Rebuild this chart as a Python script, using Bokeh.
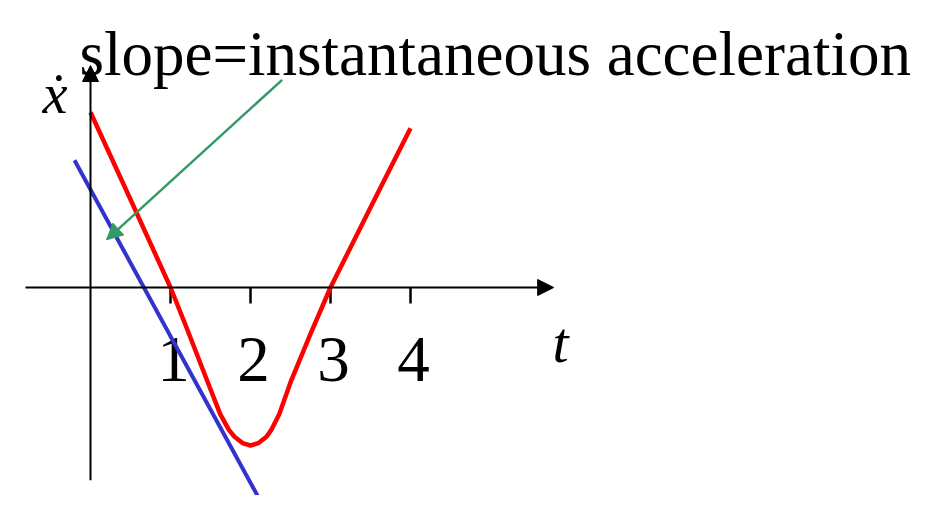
from bokeh.plotting import figure
from bokeh.models import ColumnDataSource, Arrow, NormalHead, Label, Range1d
from bokeh.core.properties import value
from bokeh.embed import file_html
from bokeh.resources import INLINE

# ---- data ----
curve_t = [0.0, 0.5, 1.0, 1.2, 1.456, 1.62, 1.73, 1.8, 1.9, 2.0, 2.1, 2.2, 2.26, 2.36, 2.51, 2.75, 3.0, 3.5, 4.0]
curve_v = [2.19, 1.1, 0.0, -0.5, -1.16, -1.58, -1.78, -1.865, -1.945, -1.975, -1.945, -1.865, -1.78, -1.58, -1.16, -0.58, 0.0, 1.0, 1.99]

tangent_t = [-0.2, 2.19]
tangent_v = [1.59, -2.79]

pointer_t = [2.396, 0.2]
pointer_v = [2.596, 0.596]

tick_t = [1, 2, 3, 4]
tick_labels = ["1", "2", "3", "4"]

title_text = "slope=instantaneous acceleration"
y_label = "\u1e8b"
x_label = "t"

W, H = 911, 495
SC = 80.0
x0_px, y0_px = 90.0, 287.0

p = figure(width=W, height=H, output_backend="svg", toolbar_location=None,
           x_range=Range1d(-x0_px / SC, (W - x0_px) / SC),
           y_range=Range1d(-(H - y0_px) / SC, y0_px / SC),
           min_border=0)
p.axis.visible = False
p.grid.visible = False
p.outline_line_color = None
p.background_fill_color = "white"
p.border_fill_color = "white"

# axes with arrowheads
p.add_layout(Arrow(x_start=-0.8125, y_start=0, x_end=5.79, y_end=0,
                   line_color="black", line_width=2,
                   end=NormalHead(size=16, fill_color="black", line_color="black", line_width=1)))
p.add_layout(Arrow(x_start=0, y_start=-2.41, x_end=0, y_end=2.775,
                   line_color="black", line_width=2,
                   end=NormalHead(size=16, fill_color="black", line_color="black", line_width=1)))

# ticks
tsrc = ColumnDataSource(dict(x=tick_t, y0=[0] * len(tick_t), y1=[-0.2] * len(tick_t), lab=tick_labels))
p.segment(x0="x", y0="y0", x1="x", y1="y1", source=tsrc, line_color="black", line_width=2.5)
p.text(x="x", y=-0.9, text="lab", source=tsrc, text_font=value("Liberation Serif"),
       text_font_size="65px", text_align="center", text_baseline="alphabetic", x_offset=3,
       text_color="black")

# tangent line
p.line(tangent_t, tangent_v, line_color="#3333cc", line_width=4)

# velocity curve
p.line(curve_t, curve_v, line_color="#ff0000", line_width=4.5, line_join="round")

# pointer arrow
p.add_layout(Arrow(x_start=pointer_t[0], y_start=pointer_v[0], x_end=pointer_t[1], y_end=pointer_v[1],
                   line_color="#339966", line_width=2.5,
                   end=NormalHead(size=16, fill_color="#339966", line_color="#339966", line_width=1)))

# texts
p.add_layout(Label(x=-0.1375, y=2.925, text=title_text, text_font="Liberation Serif",
                   text_font_size="63px", text_baseline="alphabetic", text_color="black"))
p.add_layout(Label(x=-0.6, y=2.425, text=y_label, text_font="Liberation Serif",
                   text_font_style="italic", text_font_size="56px", text_baseline="alphabetic",
                   text_color="black"))
p.add_layout(Label(x=5.775, y=-0.6875, text=x_label, text_font="Liberation Serif",
                   text_font_style="italic", text_font_size="58px", text_baseline="alphabetic",
                   text_color="black"))

open("out.html", "w").write(file_html(p, INLINE))
